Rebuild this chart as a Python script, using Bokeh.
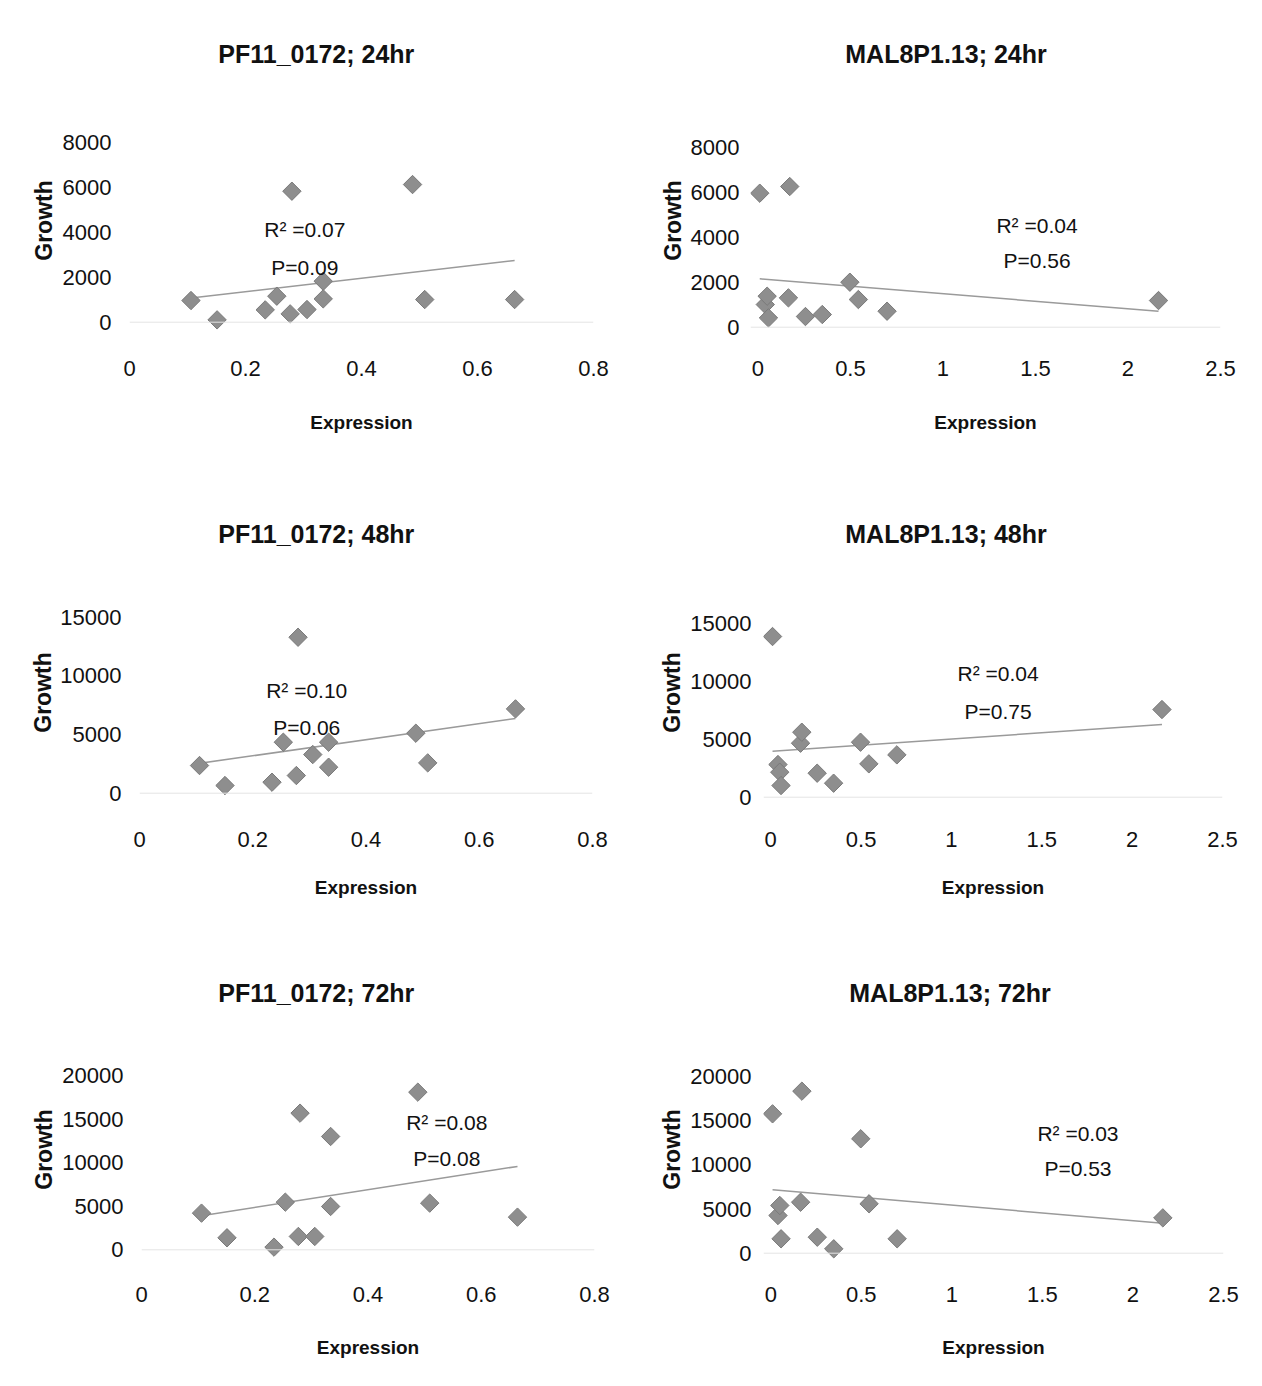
from bokeh.plotting import figure
from bokeh.layouts import column, row
from bokeh.models import Label, Range1d, FixedTicker, ColumnDataSource, Span, Title
from bokeh.embed import file_html
from bokeh.resources import INLINE
import numpy as np

# ---------------- data ----------------
pf_expression = [0.106, 0.151, 0.234, 0.254, 0.277, 0.280, 0.306, 0.334, 0.334, 0.488, 0.509, 0.664]
pf_growth_24 = [963, 104, 548, 1156, 370, 5822, 563, 1822, 1037, 6118, 1007, 1007]
pf_growth_48 = [2358, 653, 938, 4347, 1506, 13295, 3295, 4347, 2216, 5114, 2585, 7188]
pf_growth_72 = [4207, 1377, 306, 5468, 1530, 15679, 1530, 13002, 4971, 18088, 5354, 3748]

mal_expression = [0.010, 0.040, 0.050, 0.057, 0.165, 0.172, 0.257, 0.348, 0.497, 0.543, 0.698, 2.165]
mal_growth_24 = [5956, 1007, 1378, 415, 1304, 6252, 474, 563, 2000, 1230, 711, 1185]
mal_growth_48 = [13851, 2816, 2155, 1006, 4655, 5603, 2069, 1207, 4741, 2874, 3649, 7557]
mal_growth_72 = [15774, 4267, 5399, 1630, 5772, 18340, 1811, 498, 12949, 5591, 1630, 4000]

titles = ["PF11_0172; 24hr", "MAL8P1.13; 24hr", "PF11_0172; 48hr", "MAL8P1.13; 48hr",
          "PF11_0172; 72hr", "MAL8P1.13; 72hr"]
r2_text = ["R\u00b2 =0.07", "R\u00b2 =0.04", "R\u00b2 =0.10", "R\u00b2 =0.04", "R\u00b2 =0.08", "R\u00b2 =0.03"]
p_text = ["P=0.09", "P=0.56", "P=0.06", "P=0.75", "P=0.08", "P=0.53"]

# trend line (slope, intercept)
trend_slope = [2995, -669, 6864, 1071, 10140, -1768]
trend_intercept = [753, 2158, 1816, 3949, 2837, 7209]

pf_xticks = [0, 0.2, 0.4, 0.6, 0.8]
pf_xtick_labels = ["0", "0.2", "0.4", "0.6", "0.8"]
mal_xticks = [0, 0.5, 1, 1.5, 2, 2.5]
mal_xtick_labels = ["0", "0.5", "1", "1.5", "2", "2.5"]
yticks_24 = [0, 2000, 4000, 6000, 8000]
yticks_48 = [0, 5000, 10000, 15000]
yticks_72 = [0, 5000, 10000, 15000, 20000]

# ---------------- styling / layout ----------------
FONT = "Liberation Sans"
TITLE_SIZE = 25
W = 623
ROW_H = [480, 461, 429]
ROW_Y = [0, 480, 941]
COL_X = [0, 623]
# shared frame top / bottom per row (page px), x-label row, axis-title row, title centre
ROWS = [dict(T=104, B=336, xlab=368, exp=421.7, tc=53.5),
        dict(T=584, B=800, xlab=838.8, exp=886.7, tc=533.5),
        dict(T=1039, B=1259, xlab=1294, exp=1346.7, tc=993)]

panels = [
    dict(x=pf_expression, y=pf_growth_24, xt=pf_xticks, xl=pf_xtick_labels, yt=yticks_24,
         xmax=0.8, xstart=0.0, x0=128.6, ppx=580.0, y0=321.7, ppy=0.0225, ystand=18,
         title_cx=316.5, r2_xy=(304, 229), p_xy=(304, 267), growth_stand=3),
    dict(x=mal_expression, y=mal_growth_24, xt=mal_xticks, xl=mal_xtick_labels, yt=yticks_24,
         xmax=2.5, xstart=-0.04, x0=757.8, ppx=185.1, y0=326.7, ppy=0.0225, ystand=11,
         title_cx=945.5, r2_xy=(1037, 225), p_xy=(1037, 260), growth_stand=2),
    dict(x=pf_expression, y=pf_growth_48, xt=pf_xticks, xl=pf_xtick_labels, yt=yticks_48,
         xmax=0.8, xstart=0.0, x0=139.4, ppx=566.5, y0=792.7, ppy=0.01173, ystand=18,
         title_cx=316.5, r2_xy=(306.7, 690), p_xy=(306.7, 726.7), growth_stand=1),
    dict(x=mal_expression, y=mal_growth_48, xt=mal_xticks, xl=mal_xtick_labels, yt=yticks_48,
         xmax=2.5, xstart=-0.04, x0=769.8, ppx=180.6, y0=796.7, ppy=0.0116, ystand=12,
         title_cx=945.5, r2_xy=(997, 672.7), p_xy=(997, 710.7), growth_stand=2),
    dict(x=pf_expression, y=pf_growth_72, xt=pf_xticks, xl=pf_xtick_labels, yt=yticks_72,
         xmax=0.8, xstart=0.0, x0=140.6, ppx=566.5, y0=1249.3, ppy=0.008715, ystand=18,
         title_cx=316.5, r2_xy=(446, 1121.7), p_xy=(446, 1158.3), growth_stand=2),
    dict(x=mal_expression, y=mal_growth_72, xt=mal_xticks, xl=mal_xtick_labels, yt=yticks_72,
         xmax=2.5, xstart=-0.04, x0=769.8, ppx=181.1, y0=1252.7, ppy=0.008835, ystand=12,
         title_cx=949.5, r2_xy=(1077, 1133.3), p_xy=(1077, 1168.3), growth_stand=2),
]

# approximate advance widths (em) of Liberation Sans Bold, used to centre titles
BOLD_W = {"P": .667, "F": .611, "M": .833, "A": .722, "L": .611, "_": .556, ";": .333, " ": .278,
          ".": .278, "h": .611, "r": .389}


def text_width(s, size):
    return sum(BOLD_W.get(ch, .556) for ch in s) * size


def make_panel(i, c):
    r = ROWS[i // 2]
    ox = COL_X[i % 2]
    oy = ROW_Y[i // 2]
    H = ROW_H[i // 2]
    T, B = r["T"], r["B"]
    yend = (c["y0"] - T) / c["ppy"]
    ystart = -(B - c["y0"]) / c["ppy"]
    fl = round(c["x0"] - ox + c["xstart"] * c["ppx"])
    fw = round((c["xmax"] - c["xstart"]) * c["ppx"])
    ft = T - oy
    fh = B - T

    p = figure(width=W, height=H, output_backend="svg", toolbar_location=None,
               x_range=Range1d(c["xstart"], c["xmax"]), y_range=Range1d(ystart, yend),
               min_border_left=fl, min_border_right=W - fl - fw,
               min_border_top=ft, min_border_bottom=H - ft - fh)
    p.background_fill_color = "white"
    p.border_fill_color = "white"
    p.outline_line_color = None
    p.grid.grid_line_color = None

    # title: text bottom sits standoff/2 above the frame
    tc_fig = r["tc"] - oy
    s = 2 * (ft - tc_fig - 13.5)
    s = int(round(min(s, ft - 31)))
    p.title.text = titles[i]
    p.title.align = "left"
    p.title.offset = c["title_cx"] - text_width(titles[i], TITLE_SIZE) / 2 - (ox + fl)
    p.title.standoff = max(s, 0)
    p.title.text_font = FONT
    p.title.text_font_style = "bold"
    p.title.text_font_size = f"{TITLE_SIZE}px"
    p.title.text_color = "#111111"

    for ax in (p.xaxis[0], p.yaxis[0]):
        ax.axis_line_color = None
        ax.major_tick_line_color = None
        ax.minor_tick_line_color = None
        ax.major_tick_out = 0
        ax.major_tick_in = 0
        ax.minor_tick_out = 0
        ax.minor_tick_in = 0
        ax.major_label_text_font = FONT
        ax.major_label_text_font_size = "22px"
        ax.major_label_text_color = "#111111"
        ax.axis_label_text_font = FONT
        ax.axis_label_text_font_style = "bold"
        ax.axis_label_text_color = "#111111"

    p.xaxis.ticker = FixedTicker(ticks=c["xt"])
    p.xaxis.major_label_overrides = {t: l for t, l in zip(c["xt"], c["xl"])}
    p.xaxis.major_label_standoff = int(round(r["xlab"] - B - 8))
    p.xaxis.axis_label = "Expression"
    p.xaxis.axis_label_text_font_size = "19px"
    p.xaxis.axis_label_standoff = int(round(r["exp"] - r["xlab"] - 20.5))

    p.yaxis.ticker = FixedTicker(ticks=c["yt"])
    p.yaxis.major_label_overrides = {t: str(t) for t in c["yt"]}
    p.yaxis.major_label_standoff = c["ystand"]
    p.yaxis.axis_label = "Growth"
    p.yaxis.axis_label_text_font_size = "23px"
    p.yaxis.axis_label_standoff = c["growth_stand"]

    # faint axis line at zero
    p.add_layout(Span(location=0, dimension="width", line_color="#e4e4e4", line_width=1))

    # trend line
    xs = np.array(c["x"], dtype=float)
    tx = [xs.min(), xs.max()]
    ty = [trend_intercept[i] + trend_slope[i] * v for v in tx]
    p.line(tx, ty, line_color="#9a9a9a", line_width=1.5)

    src = ColumnDataSource(dict(x=c["x"], y=c["y"]))
    p.scatter("x", "y", source=src, marker="square", angle=np.pi / 4, size=13,
              fill_color="#8e8e8e", line_color="#7a7a7a", line_width=1)

    def to_data(px, py):
        return ((px - c["x0"]) / c["ppx"], (c["y0"] - py) / c["ppy"])

    rx, ry = to_data(*c["r2_xy"])
    p.add_layout(Label(x=rx, y=ry, text=r2_text[i], text_align="center", text_baseline="middle",
                       text_font=FONT, text_font_size="21px", text_color="#111111"))
    px_, py_ = to_data(*c["p_xy"])
    p.add_layout(Label(x=px_, y=py_, text=p_text[i], text_align="center", text_baseline="middle",
                       text_font=FONT, text_font_size="21px", text_color="#111111"))
    return p


figs = [make_panel(i, c) for i, c in enumerate(panels)]
layout = column(row(figs[0], figs[1]), row(figs[2], figs[3]), row(figs[4], figs[5]))

open("out.html", "w").write(file_html(layout, INLINE))
